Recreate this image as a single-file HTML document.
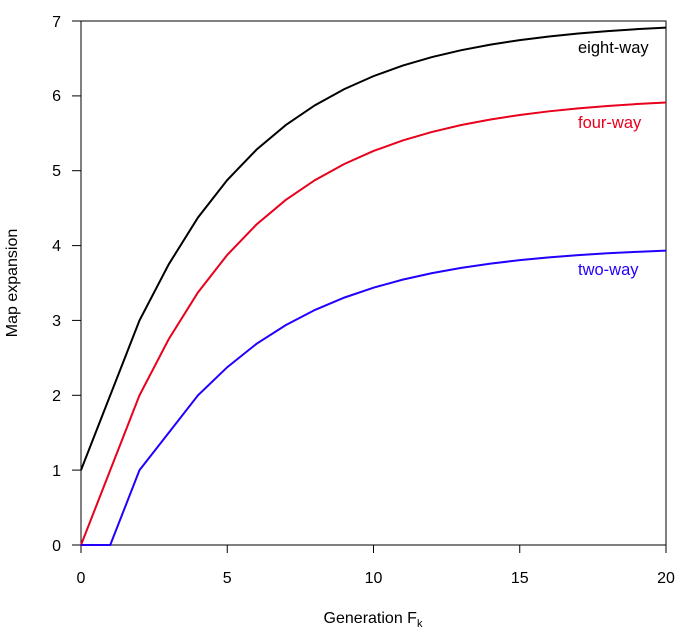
<!DOCTYPE html>
<html><head><meta charset="utf-8"><style>
html,body{margin:0;padding:0;background:#fff;}
svg{display:block;font-family:"Liberation Sans",Arial,sans-serif;}
</style></head><body>
<svg id="s" width="690" height="636" viewBox="0 0 690 636" xmlns="http://www.w3.org/2000/svg">
<rect x="81" y="21" width="585" height="524" fill="none" stroke="#000" stroke-width="1"/>
<g stroke="#000" stroke-width="1">
<line x1="81" y1="545" x2="81" y2="553"/><line x1="227.25" y1="545" x2="227.25" y2="553"/><line x1="373.5" y1="545" x2="373.5" y2="553"/><line x1="519.75" y1="545" x2="519.75" y2="553"/><line x1="666" y1="545" x2="666" y2="553"/>
<line x1="72" y1="545" x2="81" y2="545"/><line x1="72" y1="470.1" x2="81" y2="470.1"/><line x1="72" y1="395.3" x2="81" y2="395.3"/><line x1="72" y1="320.4" x2="81" y2="320.4"/><line x1="72" y1="245.6" x2="81" y2="245.6"/><line x1="72" y1="170.7" x2="81" y2="170.7"/><line x1="72" y1="95.9" x2="81" y2="95.9"/><line x1="72" y1="21" x2="81" y2="21"/>
</g>
<g font-size="16" fill="#000" text-anchor="middle">
<text x="81" y="583">0</text><text x="227.25" y="583">5</text><text x="373.5" y="583">10</text><text x="519.75" y="583">15</text><text x="666" y="583">20</text>
</g>
<g font-size="16" fill="#000" text-anchor="end">
<text x="61" y="551">0</text><text x="61" y="476">1</text><text x="61" y="401">2</text><text x="61" y="326">3</text><text x="61" y="251">4</text><text x="61" y="176">5</text><text x="61" y="101">6</text><text x="61" y="27">7</text>
</g>
<text x="373" y="623" font-size="16" text-anchor="middle">Generation F<tspan font-size="11" dy="4">k</tspan></text>
<text transform="translate(17,283) rotate(-90)" font-size="16" text-anchor="middle">Map expansion</text>
<polyline id="p8" fill="none" stroke="#000" stroke-width="2"/>
<polyline id="p4" fill="none" stroke="#e8001c" stroke-width="2"/>
<polyline id="p2" fill="none" stroke="#2200ff" stroke-width="2"/>
<text x="578" y="53" font-size="16.5" fill="#000">eight-way</text>
<text x="578" y="128" font-size="16.5" fill="#e8001c">four-way</text>
<text x="578" y="275" font-size="16.5" fill="#2200ff">two-way</text>
</svg>
<script>
var F=[0,1,1];for(var i=3;i<30;i++)F[i]=F[i-1]+F[i-2];
var two=[0,0],four=[0],eight=[1];
for(var k=2;k<=20;k++)two[k]=two[k-1]+F[k-1]/Math.pow(2,k-2);
for(var k=1;k<=20;k++){four[k]=four[k-1]+F[k+1]/Math.pow(2,k-1);eight[k]=four[k]+1;}
function pts(a){var s=[];for(var k=0;k<=20;k++)s.push((81+k*29.25).toFixed(2)+","+(545-a[k]*74.857).toFixed(2));return s.join(" ");}
document.getElementById("p2").setAttribute("points",pts(two));
document.getElementById("p4").setAttribute("points",pts(four));
document.getElementById("p8").setAttribute("points",pts(eight));
</script>
</body></html>
